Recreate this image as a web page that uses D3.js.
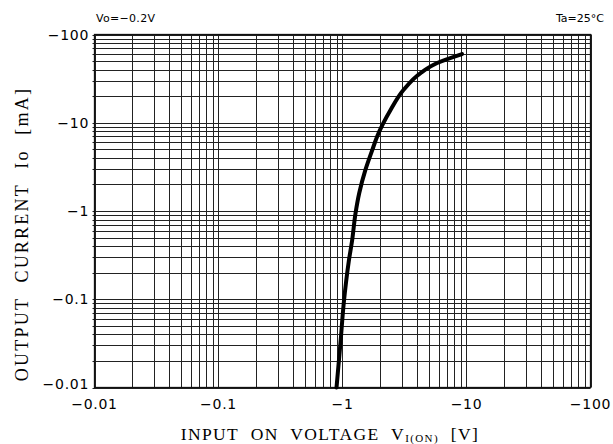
<!DOCTYPE html>
<html><head><meta charset="utf-8">
<script src="https://cdn.jsdelivr.net/npm/d3@7"></script>
<style>body{margin:0;background:#fff}svg{display:block}</style>
</head><body>
<svg id="c" width="613" height="444"></svg>
<script>
// data: |V| (V) vs |Io| (mA), negative polarity shown in labels
const voltage = [0.895, 0.963, 1.024, 1.124, 1.197, 1.273, 1.365, 1.53, 1.74, 1.90, 2.44, 3.10, 4.26, 5.80, 9.2];
const current = [0.01, 0.032, 0.091, 0.27, 0.47, 0.94, 1.60, 2.92, 4.93, 6.96, 13.96, 23.5, 36.6, 47.5, 60];
const xTicks = [0.01, 0.1, 1, 10, 100];
const xTickLabels = ["\u22120.01", "\u22120.1", "\u22121", "\u221210", "\u2212100"];
const yTicks = [0.01, 0.1, 1, 10, 100];
const yTickLabels = ["\u22120.01", "\u22120.1", "\u22121", "\u221210", "\u2212100"];

const svg = d3.select("#c");
const L = 94.5, R = 590.5, T = 34.5, B = 387.5;
const x = d3.scaleLog().domain([0.01, 100]).range([L, R]);
const y = d3.scaleLog().domain([0.01, 100]).range([B, T]);

const grid = [];
for (let e = -2; e < 2; e++) for (let k = 1; k <= 9; k++) grid.push(k * Math.pow(10, e));
grid.push(100);

const g = svg.append("g");
g.selectAll(".vx").data(grid).join("line")
  .attr("x1", d => Math.round(x(d)) + 0.5).attr("x2", d => Math.round(x(d)) + 0.5)
  .attr("y1", T).attr("y2", B).attr("stroke", "#222").attr("stroke-width", 1);
g.selectAll(".hy").data(grid).join("line")
  .attr("y1", d => Math.round(y(d)) + 0.5).attr("y2", d => Math.round(y(d)) + 0.5)
  .attr("x1", L - 2).attr("x2", R).attr("stroke", "#222").attr("stroke-width", 1);
g.append("rect").attr("x", L).attr("y", T).attr("width", R - L).attr("height", B - T)
  .attr("fill", "none").attr("stroke", "#111").attr("stroke-width", 1.3);

const pts = voltage.map((v, i) => [v, current[i]]);
svg.append("path").datum(pts)
  .attr("d", d3.line().x(d => x(d[0])).y(d => y(d[1])).curve(d3.curveMonotoneY))
  .attr("fill", "none").attr("stroke", "#000").attr("stroke-width", 4).attr("stroke-linecap", "round");

const tickFont = "'DejaVu Sans', sans-serif";
svg.selectAll(".xt").data(xTicks).join("text")
  .attr("x", d => x(d)).attr("y", 409).attr("text-anchor", "middle")
  .attr("font-family", tickFont).attr("font-size", 14).attr("letter-spacing", 0.7)
  .text((d, i) => xTickLabels[i]);
svg.selectAll(".yt").data(yTicks).join("text")
  .attr("x", 89).attr("y", (d, i) => i === 0 ? y(d) + 1 : y(d) + 5).attr("text-anchor", "end")
  .attr("font-family", tickFont).attr("font-size", 14).attr("letter-spacing", 0.7)
  .text((d, i) => yTickLabels[i]);

svg.append("text").attr("x", 96).attr("y", 22).attr("font-family", tickFont).attr("font-size", 11)
  .attr("letter-spacing", 0.3).text("Vo=\u22120.2V");
svg.append("text").attr("x", 604).attr("y", 22).attr("text-anchor", "end").attr("font-family", tickFont)
  .attr("font-size", 11).text("Ta=25\u00b0C");

const serif = "'Liberation Serif', 'Times New Roman', serif";
const xt = svg.append("text").attr("x", 330).attr("y", 440).attr("text-anchor", "middle")
  .attr("font-family", serif).attr("font-size", 17.5).attr("letter-spacing", 1.4).attr("word-spacing", 6);
xt.append("tspan").text("INPUT ON VOLTAGE V");
xt.append("tspan").attr("font-size", 11).attr("dy", 2).text("I(ON)");
xt.append("tspan").attr("dy", -2).text(" [V]");

const yt = svg.append("text").attr("transform", "translate(28,234) rotate(-90)").attr("text-anchor", "middle")
  .attr("font-family", serif).attr("font-size", 18).attr("letter-spacing", 2.2).attr("word-spacing", 8);
yt.append("tspan").text("OUTPUT CURRENT Io [mA]");
</script>
</body></html>
